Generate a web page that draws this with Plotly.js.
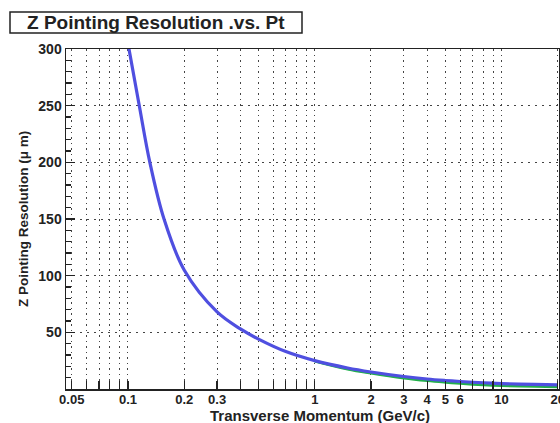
<!DOCTYPE html>
<html>
<head>
<meta charset="utf-8">
<script src="https://cdn.plot.ly/plotly-3.0.1.min.js"></script>
<style>
  html, body { margin: 0; padding: 0; background: #fff; }
  #plot { width: 560px; height: 423px; }
</style>
</head>
<body>
<div id="plot"></div>
<script>
// Transverse momentum (GeV/c) and Z pointing resolution (µm)
const ptMain = [0.1, 0.115, 0.131, 0.156, 0.2, 0.3, 0.4, 0.5, 0.7, 1, 1.5, 2, 3, 4, 5, 6, 8, 10, 15, 20];
const resMain = [305, 250, 200, 150, 105, 68, 53, 44, 33, 25, 18.5, 15, 11, 8.8, 7.5, 6.6, 5.5, 4.8, 4.0, 3.6];

// Second configuration, splits off the main curve only at high pt
const ptAlt = [1, 1.5, 2, 3, 4, 5, 6, 8, 10, 15, 20];
const resAlt = [24.5, 17.4, 13.8, 9.5, 7.2, 5.8, 4.8, 3.5, 2.8, 2.1, 1.8];

// Tick positions on the log axis: every digit of each decade, labels only on some
const xTickVals = [0.05, 0.06, 0.07, 0.08, 0.09,
                   0.1, 0.2, 0.3, 0.4, 0.5, 0.6, 0.7, 0.8, 0.9,
                   1, 2, 3, 4, 5, 6, 7, 8, 9, 10, 20];
const xLabelled = ['0.05', '0.1', '0.2', '0.3', '1', '2', '3', '4', '5', '6', '10', '20'];
const xTickText = xTickVals.map(v => {
  const s = String(v);
  return xLabelled.includes(s) ? s : '';
});
const yTickVals = [50, 100, 150, 200, 250, 300];

const FONT = 'Liberation Sans, Arial, Helvetica, sans-serif';

const traces = [
  { x: ptAlt, y: resAlt.map((v, i) => (v + resMain[ptMain.indexOf(ptAlt[i])]) / 2),
    mode: 'lines', line: { color: '#33cccc', width: 2.5, shape: 'spline' },
    hoverinfo: 'skip', showlegend: false },
  { x: ptAlt, y: resAlt, mode: 'lines',
    line: { color: '#22b04a', width: 2.5, shape: 'spline' },
    hoverinfo: 'skip', showlegend: false },
  { x: ptMain, y: resMain, mode: 'lines',
    line: { color: '#4f4fe0', width: 3.2, shape: 'spline' },
    showlegend: false }
];

const layout = {
  width: 560, height: 423,
  margin: { l: 66, r: 1, t: 49, b: 34 },
  paper_bgcolor: '#fff', plot_bgcolor: '#fff',
  font: { family: FONT, color: '#222' },
  xaxis: {
    type: 'log',
    range: [Math.log10(0.0466), Math.log10(20.3)],
    tickvals: xTickVals, ticktext: xTickText,
    ticks: 'inside', ticklen: 8, tickwidth: 1.2, tickcolor: '#222',
    showline: true, linecolor: '#222', linewidth: 1.5, mirror: true,
    showgrid: true, gridcolor: '#444', gridwidth: 1, griddash: '1.5px,4px',
    zeroline: false,
    ticklabeloverflow: 'allow',
    ticklabelstandoff: -2,
    tickfont: { family: FONT, size: 13, color: '#222', weight: 'bold' },
    tickangle: 0
  },
  yaxis: {
    range: [0, 300],
    tickvals: yTickVals,
    ticks: 'inside', ticklen: 9, tickwidth: 1.2, tickcolor: '#222',
    minor: { dtick: 10, ticks: 'inside', ticklen: 5, tickcolor: '#222', showgrid: false },
    showline: true, linecolor: '#222', linewidth: 1.5, mirror: true,
    showgrid: true, gridcolor: '#444', gridwidth: 1, griddash: '2px,5px',
    zeroline: false,
    tickfont: { family: FONT, size: 14, color: '#222', weight: 'bold' }
  },
  shapes: [
    { type: 'rect', xref: 'paper', yref: 'paper',
      x0: (10 - 66) / 493, x1: (302 - 66) / 493,
      y0: (389 - 33) / 340, y1: (389 - 12) / 340,
      line: { color: '#222', width: 1.5 }, fillcolor: '#fff' }
  ],
  annotations: [
    { text: 'Z Pointing Resolution .vs. Pt', xref: 'paper', yref: 'paper',
      x: (156 - 66) / 493, y: (389 - 22.5) / 340, xanchor: 'center', yanchor: 'middle',
      showarrow: false, font: { family: FONT, size: 19, color: '#222', weight: 'bold' } },
    { text: 'Transverse Momentum (GeV/c)', xref: 'paper', yref: 'paper',
      x: (320 - 66) / 493, y: (389 - 415.5) / 340, xanchor: 'center', yanchor: 'middle',
      showarrow: false, font: { family: FONT, size: 15, color: '#222', weight: 'bold' } },
    { text: 'Z Pointing Resolution (μ m)', xref: 'paper', yref: 'paper',
      x: (23 - 66) / 493, y: 0.5, xanchor: 'center', yanchor: 'middle', textangle: -90,
      showarrow: false, font: { family: FONT, size: 13.5, color: '#222', weight: 'bold' } }
  ]
};

Plotly.newPlot('plot', traces, layout, { displayModeBar: false, staticPlot: true });
</script>
</body>
</html>
